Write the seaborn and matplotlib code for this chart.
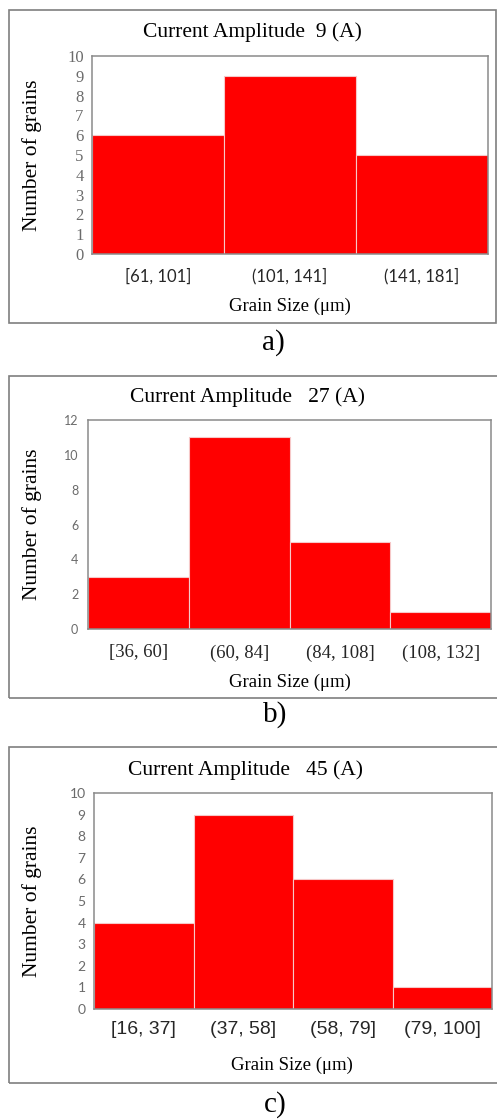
import matplotlib
matplotlib.use("Agg")
import matplotlib.pyplot as plt
import seaborn as sns
from matplotlib.patches import Rectangle

# Te dhenat e histogrameve (lexuar nga figura)
bins_a = ["[61, 101]", "(101, 141]", "(141, 181]"]
counts_a = [6, 9, 5]
bins_b = ["[36, 60]", "(60, 84]", "(84, 108]", "(108, 132]"]
counts_b = [3, 11, 5, 1]
bins_c = ["[16, 37]", "(37, 58]", "(58, 79]", "(79, 100]"]
counts_c = [4, 9, 6, 1]
titles = ["Current Amplitude  9 (A)", "Current Amplitude   27 (A)", "Current Amplitude   45 (A)"]
y_max = [10, 12, 10]
y_step = [1, 2, 1]
letters = ["a)", "b)", "c)"]

W, H = 497, 1119
SERIF = "Liberation Serif"
BOX = "#7f7f7f"


def fx(x):
    return x / W


def fy(y):
    return 1 - y / H


def draw_panel(fig, cats, vals, title, ymax, ystep, letter, lay):
    """Vizaton nje panel: kutine, boshtin, tekstet."""
    # kutia e jashtme
    bx0, by0, bx1, by1 = lay["box"]
    fig.add_artist(Rectangle((fx(bx0), fy(by1)), (bx1 - bx0) / W, (by1 - by0) / H,
                             fill=False, edgecolor=BOX, lw=1.2, transform=fig.transFigure))

    l, t, r, b = lay["ax"]
    ax = fig.add_axes([fx(l), fy(b), (r - l) / W, (b - t) / H])
    sns.barplot(x=cats, y=vals, ax=ax, color="#ff0000", saturation=1, width=1,
                edgecolor="#f6c8c8", linewidth=0.8)
    ax.set_xlim(-0.5, len(cats) - 0.5)
    ax.set_ylim(0, ymax)

    ax.set_xticks(range(len(cats)))
    ax.set_xticklabels(cats, fontfamily=lay["xfont"], fontsize=lay["xsize"], color="#262626")
    yt = list(range(0, ymax + 1, ystep))
    ax.set_yticks(yt)
    ax.set_yticklabels([str(v) for v in yt], fontfamily=lay["yfont"], fontsize=lay["ysize"],
                       color="#6b6b6b")
    ax.tick_params(axis="x", length=0, pad=lay["xpad"])
    ax.tick_params(axis="y", length=0, pad=lay["ypad"])
    ax.set_xlabel("")
    ax.set_ylabel("")
    for s in ax.spines.values():
        s.set_visible(True)
        s.set_color("#8a8a8a")
        s.set_linewidth(1.1)

    # tekstet
    fig.text(fx(lay["title"][0]), fy(lay["title"][1]), title, ha="center", va="center",
             fontfamily=SERIF, fontsize=15.5, color="black")
    fig.text(fx(32), fy((t + b) / 2), "Number of grains", rotation=90, ha="center", va="center",
             fontfamily=SERIF, fontsize=15.5, color="black")
    fig.text(fx(lay["xlab"][0]), fy(lay["xlab"][1]), "Grain Size (μm)", ha="center", va="center",
             fontfamily=SERIF, fontsize=13.5, color="black")
    fig.text(fx(lay["letter"][0]), fy(lay["letter"][1]), letter, ha="center", va="center",
             fontfamily=SERIF, fontsize=21, color="black")
    return ax


sns.set_style("white")
plt.rcParams["font.family"] = [SERIF, "DejaVu Sans"]

fig = plt.figure(figsize=(W / 100, H / 100), dpi=100)

layouts = [
    dict(box=(9, 10, 496, 323), ax=(92, 56, 488, 254), title=(252, 32), xlab=(290, 306),
         letter=(273, 343), xfont="Lato", xsize=12, yfont=SERIF, ysize=12, xpad=10, ypad=6),
    dict(box=(9, 376, 499, 698), ax=(88, 420, 491, 629), title=(248, 397), xlab=(290, 682),
         letter=(275, 715), xfont=SERIF, xsize=13.5, yfont="Lato", ysize=9, xpad=11, ypad=7),
    dict(box=(9, 747, 499, 1083), ax=(94, 793, 492, 1009), title=(245, 770), xlab=(292, 1065),
         letter=(275, 1105), xfont="Liberation Sans", xsize=14, yfont="Lato", ysize=10, xpad=9, ypad=6),
]
data = [(bins_a, counts_a), (bins_b, counts_b), (bins_c, counts_c)]

for i in range(3):
    draw_panel(fig, data[i][0], data[i][1], titles[i], y_max[i], y_step[i], letters[i], layouts[i])

fig.savefig("out.png", dpi=100, facecolor="white")
